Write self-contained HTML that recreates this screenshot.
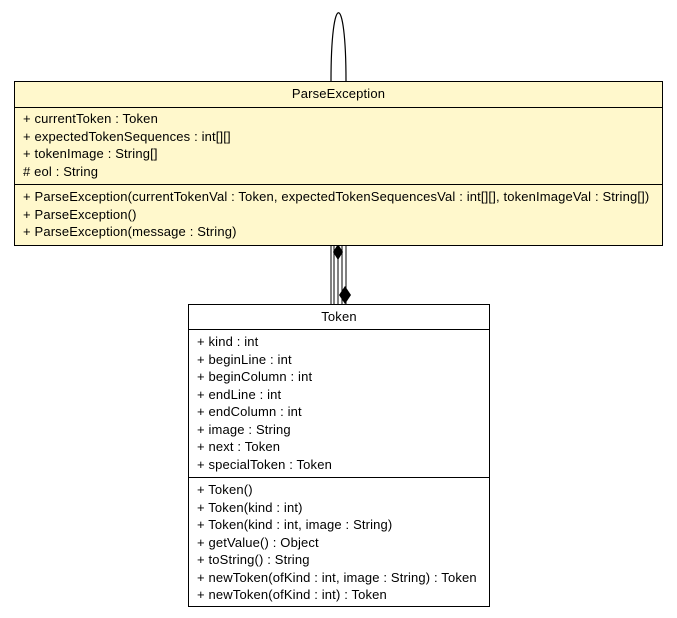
<!DOCTYPE html>
<html><head><style>
body{margin:0;background:#fff;width:677px;height:618px;position:relative;font-family:"Liberation Sans",sans-serif;font-size:13px;letter-spacing:0.15px;color:#000}
.b{position:absolute;border:1px solid #000;box-sizing:border-box}
.t{position:absolute;white-space:nowrap}
.h{position:absolute;left:0;right:0;border-top:1px solid #000}
</style></head><body>
<svg width="677" height="618" style="position:absolute;left:0;top:0">
<path d="M331 81 C331 -10 346 -10 346 81" fill="none" stroke="#000" stroke-width="1.2"/>
<line x1="331" y1="245" x2="331" y2="304" stroke="#000"/>
<line x1="334" y1="245" x2="334" y2="304" stroke="#000"/>
<line x1="338" y1="245" x2="338" y2="304" stroke="#000"/>
<line x1="342" y1="245" x2="342" y2="304" stroke="#000"/>
<line x1="346" y1="245" x2="346" y2="304" stroke="#000"/>
<polygon points="338,244 343,252 338,260 333,252" fill="#000"/>
<polygon points="345,286 351,295 345,304 339,295" fill="#000"/>
</svg>
<div class="b" style="left:14px;top:81px;width:649px;height:165px;background:#fff8cc">
<div class="t" style="left:0;right:0;top:4px;text-align:center">ParseException</div>
<div class="h" style="top:25px"></div>
<div class="t" style="left:8px;top:28px;line-height:17.5px">+ currentToken : Token<br>+ expectedTokenSequences : int[][]<br>+ tokenImage : String[]<br># eol : String</div>
<div class="h" style="top:102px"></div>
<div class="t" style="left:8px;top:106px;line-height:17.5px">+ ParseException(currentTokenVal : Token, expectedTokenSequencesVal : int[][], tokenImageVal : String[])<br>+ ParseException()<br>+ ParseException(message : String)</div>
</div>
<div class="b" style="left:188px;top:304px;width:302px;height:303px;background:#fff">
<div class="t" style="left:0;right:0;top:4px;text-align:center">Token</div>
<div class="h" style="top:24px"></div>
<div class="t" style="left:8px;top:28px;line-height:17.5px">+ kind : int<br>+ beginLine : int<br>+ beginColumn : int<br>+ endLine : int<br>+ endColumn : int<br>+ image : String<br>+ next : Token<br>+ specialToken : Token</div>
<div class="h" style="top:172px"></div>
<div class="t" style="left:8px;top:176px;line-height:17.5px">+ Token()<br>+ Token(kind : int)<br>+ Token(kind : int, image : String)<br>+ getValue() : Object<br>+ toString() : String<br>+ newToken(ofKind : int, image : String) : Token<br>+ newToken(ofKind : int) : Token</div>
</div>
</body></html>
